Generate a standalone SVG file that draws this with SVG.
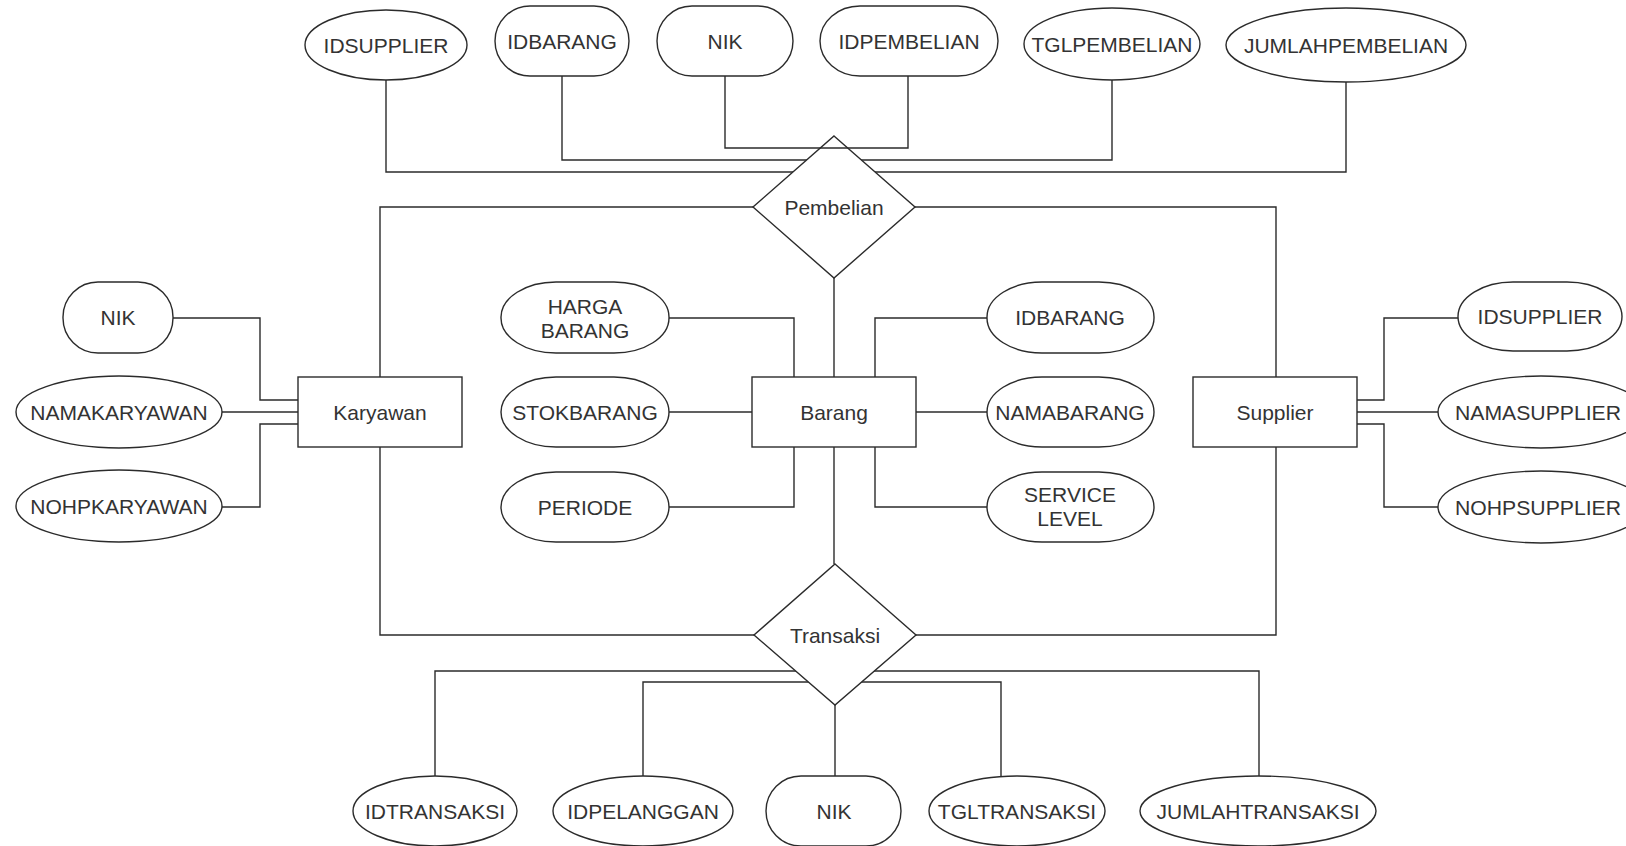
<svg xmlns="http://www.w3.org/2000/svg" width="1626" height="846" viewBox="0 0 1626 846">
<style>
.s{fill:#fff;stroke:#2b2b2b;stroke-width:1.4}
.c{fill:none;stroke:#2b2b2b;stroke-width:1.4}
text{font-family:"Liberation Sans",Arial,sans-serif;font-size:21px;fill:#333;text-anchor:middle}
</style>
<rect width="1626" height="846" fill="#fff"/>
<g id="connectors-back">
<polyline class="c" points="386,80 386,172 1346,172 1346,82"/>
<polyline class="c" points="562,76 562,160 1112,160 1112,80"/>
<polyline class="c" points="753,207 380,207 380,377"/>
<polyline class="c" points="915,207 1276,207 1276,377"/>
<polyline class="c" points="834,278 834,377"/>
<polyline class="c" points="380,447 380,635 754,635"/>
<polyline class="c" points="1276,447 1276,635 916,635"/>
<polyline class="c" points="834,447 834,564"/>
<polyline class="c" points="173,318 260,318 260,400 298,400"/>
<polyline class="c" points="222,412 298,412"/>
<polyline class="c" points="222,507 260,507 260,424 298,424"/>
<polyline class="c" points="669,318 794,318 794,377"/>
<polyline class="c" points="669,412 752,412"/>
<polyline class="c" points="669,507 794,507 794,447"/>
<polyline class="c" points="987,318 875,318 875,377"/>
<polyline class="c" points="916,412 987,412"/>
<polyline class="c" points="987,507 875,507 875,447"/>
<polyline class="c" points="1458,318 1384,318 1384,400 1357,400"/>
<polyline class="c" points="1357,412 1438,412"/>
<polyline class="c" points="1357,424 1384,424 1384,507 1438,507"/>
<polyline class="c" points="435,776 435,671 1259,671 1259,776"/>
<polyline class="c" points="643,776 643,682 1001,682 1001,776"/>
<polyline class="c" points="835,705 835,776"/>
</g>
<g id="pembelian"><polygon class="s" points="834,136 915,207 834,278 753,207"/><text x="834" y="214.5">Pembelian</text></g>
<g id="transaksi"><polygon class="s" points="835,564 916,635 835,705 754,635"/><text x="835" y="642.5">Transaksi</text></g>
<g id="connectors-front">
<polyline class="c" points="725,76 725,148 908,148 908,76"/>
</g>
<g id="karyawan"><rect class="s" x="298" y="377" width="164" height="70"/><text x="380" y="419.5">Karyawan</text></g>
<g id="barang"><rect class="s" x="752" y="377" width="164" height="70"/><text x="834" y="419.5">Barang</text></g>
<g id="supplier"><rect class="s" x="1193" y="377" width="164" height="70"/><text x="1275" y="419.5">Supplier</text></g>
<g id="a-idsupplier-top"><ellipse class="s" cx="386" cy="45" rx="81" ry="35"/><text x="386" y="52.5">IDSUPPLIER</text></g>
<g id="a-idbarang-top"><rect class="s" x="495" y="6" width="134" height="70" rx="35" ry="35"/><text x="562" y="48.5">IDBARANG</text></g>
<g id="a-nik-top"><rect class="s" x="657" y="6" width="136" height="70" rx="35" ry="35"/><text x="725" y="48.5">NIK</text></g>
<g id="a-idpembelian"><rect class="s" x="820" y="6" width="178" height="70" rx="40" ry="35"/><text x="909" y="48.5">IDPEMBELIAN</text></g>
<g id="a-tglpembelian"><ellipse class="s" cx="1112" cy="44" rx="88" ry="36"/><text x="1112" y="51.5">TGLPEMBELIAN</text></g>
<g id="a-jumlahpembelian"><ellipse class="s" cx="1346" cy="45" rx="120" ry="37"/><text x="1346" y="52.5">JUMLAHPEMBELIAN</text></g>
<g id="a-nik-k"><rect class="s" x="63" y="282" width="110" height="71" rx="35" ry="35"/><text x="118" y="325">NIK</text></g>
<g id="a-namakaryawan"><ellipse class="s" cx="119" cy="412" rx="103" ry="36"/><text x="119" y="419.5">NAMAKARYAWAN</text></g>
<g id="a-nohpkaryawan"><ellipse class="s" cx="119" cy="506" rx="103" ry="36"/><text x="119" y="513.5">NOHPKARYAWAN</text></g>
<g id="a-hargabarang"><rect class="s" x="501" y="282" width="168" height="71" rx="55" ry="35"/><text x="585" y="314">HARGA</text><text x="585" y="337.5">BARANG</text></g>
<g id="a-stokbarang"><rect class="s" x="501" y="377" width="168" height="70" rx="55" ry="35"/><text x="585" y="419.5">STOKBARANG</text></g>
<g id="a-periode"><rect class="s" x="501" y="472" width="168" height="70" rx="55" ry="35"/><text x="585" y="514.5">PERIODE</text></g>
<g id="a-idbarang"><rect class="s" x="987" y="282" width="167" height="71" rx="55" ry="35"/><text x="1070" y="325">IDBARANG</text></g>
<g id="a-namabarang"><rect class="s" x="987" y="377" width="167" height="70" rx="55" ry="35"/><text x="1070" y="419.5">NAMABARANG</text></g>
<g id="a-servicelevel"><rect class="s" x="987" y="472" width="167" height="70" rx="55" ry="35"/><text x="1070" y="502">SERVICE</text><text x="1070" y="525.5">LEVEL</text></g>
<g id="a-idsupplier"><rect class="s" x="1458" y="282" width="164" height="69" rx="55" ry="34.5"/><text x="1540" y="324">IDSUPPLIER</text></g>
<g id="a-namasupplier"><ellipse class="s" cx="1541" cy="412" rx="103" ry="36"/><text x="1538" y="419.5" textLength="166" lengthAdjust="spacingAndGlyphs">NAMASUPPLIER</text></g>
<g id="a-nohpsupplier"><ellipse class="s" cx="1541" cy="507" rx="103" ry="36"/><text x="1538" y="514.5" textLength="166" lengthAdjust="spacingAndGlyphs">NOHPSUPPLIER</text></g>
<g id="a-idtransaksi"><ellipse class="s" cx="435" cy="811" rx="82" ry="35"/><text x="435" y="818.5">IDTRANSAKSI</text></g>
<g id="a-idpelanggan"><ellipse class="s" cx="643" cy="811" rx="90" ry="35"/><text x="643" y="818.5">IDPELANGGAN</text></g>
<g id="a-nik-t"><rect class="s" x="766" y="776" width="135" height="70" rx="35" ry="35"/><text x="834" y="818.5">NIK</text></g>
<g id="a-tgltransaksi"><ellipse class="s" cx="1017" cy="811" rx="88" ry="35"/><text x="1017" y="818.5">TGLTRANSAKSI</text></g>
<g id="a-jumlahtransaksi"><ellipse class="s" cx="1258" cy="811" rx="118" ry="35"/><text x="1258" y="818.5">JUMLAHTRANSAKSI</text></g>
</svg>
